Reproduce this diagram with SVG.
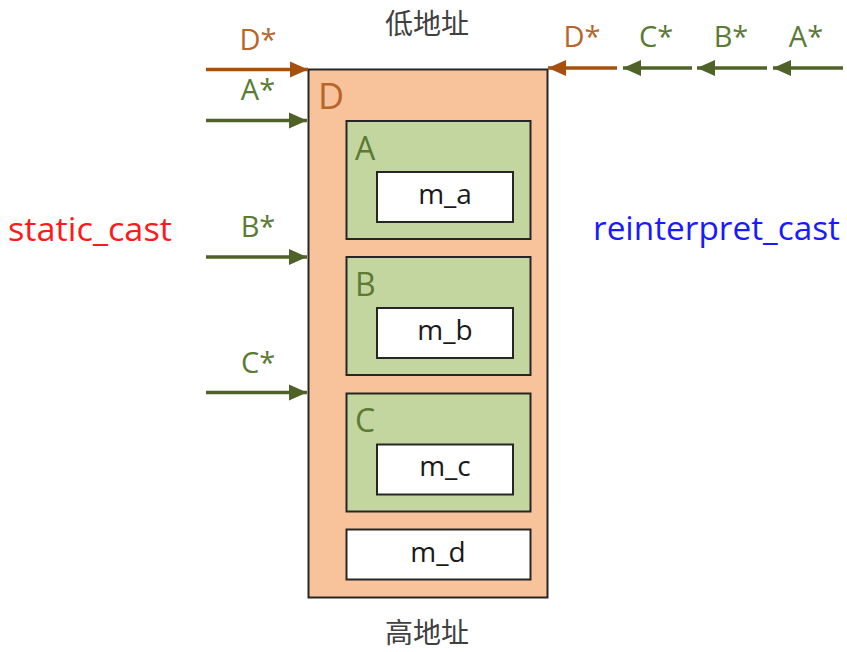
<svg xmlns="http://www.w3.org/2000/svg" width="847" height="652" viewBox="0 0 847 652">
<defs>
<marker id="ahB" markerUnits="userSpaceOnUse" markerWidth="20" markerHeight="18" refX="19" refY="9" orient="auto"><path d="M1,1 L19,9 L1,17 Z" fill="#A5500F"/></marker>
<marker id="ahG" markerUnits="userSpaceOnUse" markerWidth="20" markerHeight="18" refX="19" refY="9" orient="auto"><path d="M1,1 L19,9 L1,17 Z" fill="#4F6228"/></marker>
<style>
text{font-family:"Segoe UI","Open Sans","Noto Sans","Liberation Sans",sans-serif}
.cn{font-family:"Noto Sans CJK SC","Noto Sans",sans-serif;font-size:28px;fill:#404040;text-anchor:middle}
.lb{font-size:29px;text-anchor:middle}
.brn{fill:#B8652B}
.grn{fill:#5B7A34}
.box{stroke:#262626;stroke-width:2}
.outer{fill:#F8C39A}
.inner{fill:#C4D6A0}
.mem{fill:#FFFFFF}
.mt{font-size:28px;fill:#1a1a1a;text-anchor:middle}
.big{font-size:32px}
.ab{stroke:#A5500F;stroke-width:3.5;fill:none;marker-end:url(#ahB)}
.ag{stroke:#4F6228;stroke-width:3.5;fill:none;marker-end:url(#ahG)}
</style>
</defs>
<text class="cn" x="427" y="34">低地址</text>
<text class="cn" x="427" y="643">高地址</text>
<text x="8" y="241" font-size="33" fill="#FF1A1A" textLength="164" lengthAdjust="spacingAndGlyphs">static_cast</text>
<text x="593" y="240" font-size="33" fill="#1A1AFF" textLength="247" lengthAdjust="spacingAndGlyphs">reinterpret_cast</text>
<g id="D">
<rect class="box outer" x="308.5" y="69.5" width="239" height="528"/>
<text class="brn" x="318" y="109" font-size="36">D</text>
</g>
<g id="A">
<rect class="box inner" x="346.5" y="121" width="184" height="118"/>
<text class="big grn" x="355" y="160">A</text>
<g id="m_a"><rect class="box mem" x="377" y="172" width="136" height="50"/><text class="mt" x="445" y="204">m_a</text></g>
</g>
<g id="B">
<rect class="box inner" x="346.5" y="257" width="184" height="118"/>
<text class="big grn" x="355" y="296">B</text>
<g id="m_b"><rect class="box mem" x="377" y="308" width="136" height="50"/><text class="mt" x="445" y="340">m_b</text></g>
</g>
<g id="C">
<rect class="box inner" x="346.5" y="393.5" width="184" height="118"/>
<text class="big grn" x="355" y="432">C</text>
<g id="m_c"><rect class="box mem" x="377" y="444.5" width="136" height="50"/><text class="mt" x="445" y="476">m_c</text></g>
</g>
<g id="m_d"><rect class="box mem" x="346.5" y="529.5" width="184" height="50"/><text class="mt" x="438" y="562">m_d</text></g>
<g id="connectors">
<line class="ab" x1="206" y1="69.5" x2="308" y2="69.5"/>
<line class="ag" x1="206" y1="120.5" x2="307" y2="120.5"/>
<line class="ag" x1="206" y1="257" x2="307" y2="257"/>
<line class="ag" x1="206" y1="392.5" x2="307" y2="392.5"/>
<line class="ab" x1="617" y1="68" x2="548" y2="68"/>
<line class="ag" x1="692" y1="68" x2="623" y2="68"/>
<line class="ag" x1="767" y1="68" x2="697" y2="68"/>
<line class="ag" x1="843" y1="68" x2="773" y2="68"/>
</g>
<g id="labels">
<text class="lb brn" x="258" y="50">D*</text>
<text class="lb grn" x="258" y="100">A*</text>
<text class="lb grn" x="258" y="237">B*</text>
<text class="lb grn" x="258" y="373">C*</text>
<text class="lb brn" x="582" y="47">D*</text>
<text class="lb grn" x="656" y="47">C*</text>
<text class="lb grn" x="731" y="47">B*</text>
<text class="lb grn" x="806" y="47">A*</text>
</g>
</svg>
